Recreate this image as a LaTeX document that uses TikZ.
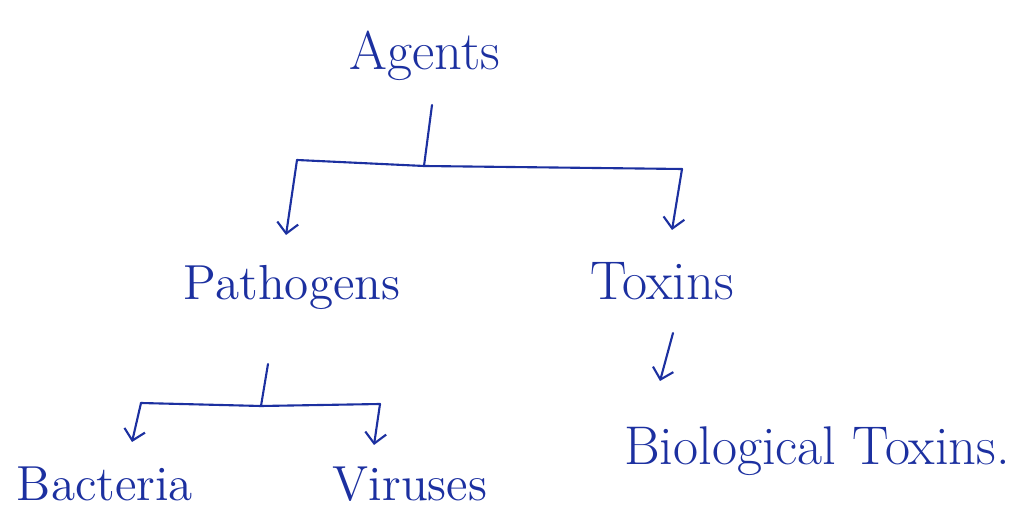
\documentclass[tikz,border=0pt]{standalone}
\usetikzlibrary{arrows.meta}
\definecolor{ink}{RGB}{28,48,160}
\begin{document}
\begin{tikzpicture}[x=0.01cm,y=-0.01cm,
  lbl/.style={text=ink,font=\fontsize{14}{16}\selectfont,inner sep=0pt,anchor=base},
  big/.style={font=\fontsize{15.5}{18}\selectfont},
  conn/.style={draw=ink,line width=0.6pt,line cap=round,line join=round},
  arr/.style={conn,-{Straight Barb[length=3pt,width=6pt]}}]
\useasboundingbox (0,0) rectangle (1031,525);
\node[lbl,big] (agents) at (425,70) {Agents};
\node[lbl] (patho) at (292,300) {Pathogens};
\node[lbl,big] (toxins) at (662,300) {Toxins};
\node[lbl] (bact) at (105,500) {Bacteria};
\node[lbl] (vir) at (410,500) {Viruses};
\node[lbl,big] (bio) at (817,465) {Biological Toxins.};
% Agents split
\coordinate (a1) at (432,105);
\coordinate (a2) at (424,166);
\coordinate (aL) at (297,160);
\coordinate (aR) at (682,169);
\coordinate (aLt) at (286,235);
\coordinate (aRt) at (672,230);
\draw[conn] (a1) -- (a2);
\draw[conn] (aL) -- (a2) -- (aR);
\draw[arr] (aL) -- (aLt);
\draw[arr] (aR) -- (aRt);
% Pathogens split
\coordinate (p1) at (268,364);
\coordinate (p2) at (261,406);
\coordinate (pL) at (141,403);
\coordinate (pR) at (380,404);
\coordinate (pLt) at (132,442);
\coordinate (pRt) at (374,445);
\draw[conn] (p1) -- (p2);
\draw[conn] (pL) -- (p2) -- (pR);
\draw[arr] (pL) -- (pLt);
\draw[arr] (pR) -- (pRt);
% Toxins to Biological Toxins
\coordinate (t1) at (673,333);
\coordinate (t2) at (660,381);
\draw[arr] (t1) -- (t2);
\end{tikzpicture}
\end{document}
